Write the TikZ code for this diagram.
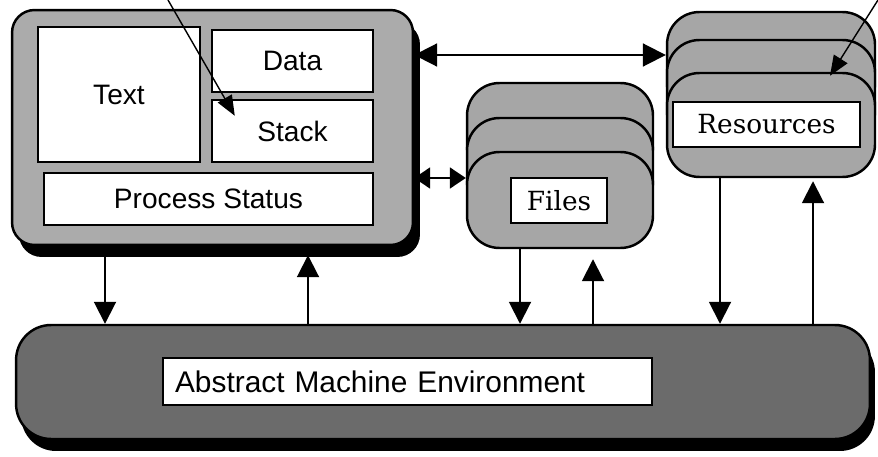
\documentclass[tikz,border=0pt]{standalone}
\usepackage{fontspec}
\setmainfont{Liberation Sans}
\newfontfamily\labelserif{DejaVu Serif}
\usetikzlibrary{arrows.meta,shadows}
\tikzset{
  panel/.style={draw,line width=1.4pt,rounded corners=0.45cm,fill=black!33},
  layer/.style={draw,line width=1.4pt,rounded corners=0.65cm,fill=black!35},
  part/.style={draw,line width=1.4pt,fill=white,inner sep=0pt,font=\fontsize{16}{19}\selectfont},
  serifpart/.style={part,font=\labelserif\fontsize{15}{18}\selectfont},
  blackshadow/.style={drop shadow={shadow xshift=#1,shadow yshift=-0.24cm,fill=black,opacity=1}},
  arr/.style={line width=1.1pt,-{Triangle[length=4.4mm,width=4.4mm]}},
  darr/.style={line width=1.1pt,{Triangle[length=4.6mm,width=4.6mm]}-{Triangle[length=4.6mm,width=4.6mm]}},
  sdarr/.style={line width=1.1pt,{Triangle[length=3.2mm,width=4.2mm]}-{Triangle[length=3.2mm,width=4.2mm]}},
  pointer/.style={line width=0.8pt,-{Triangle[length=4mm,width=3.2mm]}},
}
\begin{document}
\begin{tikzpicture}[x=0.02cm,y=-0.02cm]
  \useasboundingbox (0,0) rectangle (878,456);
  % process
  \node[panel,blackshadow=0.14cm,minimum width=8.02cm,minimum height=4.7cm] (proc) at (212.5,127.5) {};
  \node[part,minimum width=3.24cm,minimum height=2.7cm] (text) at (119,94.5) {Text};
  \node[part,minimum width=3.22cm,minimum height=1.24cm] (data) at (292.5,61) {Data};
  \node[part,minimum width=3.22cm,minimum height=1.24cm] (stack) at (292.5,131) {Stack};
  \node[part,minimum width=6.58cm,minimum height=1.04cm] (status) at (208.5,199) {Process Status};
  % files
  \foreach \n/\y in {filesA/131,filesB/166,filesC/200}
    \node[layer,minimum width=3.72cm,minimum height=1.92cm] (\n) at (560,\y) {};
  \node[serifpart,minimum width=1.92cm,minimum height=0.9cm] (files) at (559,200.5) {Files};
  % resources
  \foreach \n/\y in {resA/64,resB/92,resC/125}
    \node[layer,minimum width=4.16cm,minimum height=2.08cm] (\n) at (771,\y) {};
  \node[serifpart,minimum width=3.74cm,minimum height=0.9cm] (res) at (766.5,124.5) {Resources};
  % environment
  \node[panel,fill=black!58,rounded corners=0.7cm,blackshadow=0.1cm,minimum width=17.08cm,minimum height=2.28cm] (ame) at (443,382) {};
  \node[part,font=\fontsize{17}{20}\selectfont,minimum width=9.78cm,minimum height=0.94cm,text width=9.3cm,align=left] (amelabel) at (407.5,381.5) {Abstract Machine Environment};

  \coordinate (stackfrom) at (168,0);
  \coordinate (resfrom) at (878,0);
  \begin{scope}
    \draw[pointer] (stackfrom) -- ([shift={(0.48cm,-0.34cm)}]stack.north west);
    \draw[pointer] (resfrom) -- ([shift={(1.18cm,-0.08cm)}]resC.north);
    \draw[darr] (proc.east |- 0,55) -- (resB.west |- 0,55);
    \draw[sdarr] (proc.east |- 0,178) -- (filesC.west |- 0,178);
    \draw[arr] (proc.south -| 105,0) -- (ame.north -| 105,0);
    \draw[arr,shorten >=0.18cm] (ame.north -| 308,0) -- (proc.south -| 308,0);
    \draw[arr] (filesC.south -| 520,0) -- (ame.north -| 520,0);
    \draw[arr,shorten >=0.2cm] (ame.north -| 593,0) -- (filesC.south -| 593,0);
    \draw[arr] (resC.south -| 720,0) -- (ame.north -| 720,0);
    \draw[arr,shorten >=0.06cm] (ame.north -| 813,0) -- (resC.south -| 813,0);
  \end{scope}
\end{tikzpicture}
\end{document}
